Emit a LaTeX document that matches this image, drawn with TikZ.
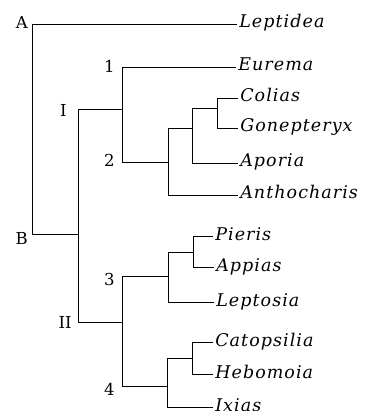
\documentclass[tikz,border=0pt]{standalone}
\usepackage{fontspec}
\newfontfamily\leafff[LetterSpace=6]{DejaVu Serif}
\newfontfamily\labff{DejaVu Serif}
\newcommand\leaffont{\leafff\itshape\fontsize{17.5}{20}\selectfont}
\newcommand\labfont{\labff\fontsize{16.5}{18}\selectfont}
\begin{document}
\begin{tikzpicture}[x=1pt,y=-1pt,line width=0.6pt,
  leaf/.style={anchor=west,inner xsep=2pt,inner ysep=0pt,text height=8pt,text depth=0pt,font=\leaffont},
  lab/.style={anchor=base east,inner sep=0pt,font=\labfont}]
\useasboundingbox (0,0) rectangle (365,411);
% leaves
\node[leaf] (lep) at (237,24) {Leptidea};
\node[leaf] (eur) at (236,67) {Eurema};
\node[leaf] (col) at (238,98) {Colias};
\node[leaf] (gon) at (238,128) {Gonepteryx};
\node[leaf] (apo) at (238,163) {Aporia};
\node[leaf] (ant) at (238,195) {Anthocharis};
\node[leaf] (pie) at (213,236) {Pieris};
\node[leaf] (app) at (214,267) {Appias};
\node[leaf] (lpt) at (214,302) {Leptosia};
\node[leaf] (cat) at (213,342) {Catopsilia};
\node[leaf] (heb) at (213,374) {Hebomoia};
\node[leaf] (ixi) at (213,407) {Ixias};
% labels
\node[lab] (lA) at (28,29) {A};
\node[lab] (lB) at (28,244) {B};
\node[lab] (l1) at (115,73) {1};
\node[lab] (lI) at (67,117) {I};
\node[lab] (l2) at (115,167) {2};
\node[lab] (l3) at (115,285) {3};
\node[lab] (lII) at (72,328) {II};
\node[lab] (l4) at (115,395) {4};
% junctions
\coordinate (a1) at (32,24);  \coordinate (a2) at (32,234);
\coordinate (i1) at (78,109); \coordinate (i2) at (78,322);
\coordinate (c1) at (122,67); \coordinate (c2) at (122,162);
\coordinate (d1) at (168,128); \coordinate (d2) at (168,195);
\coordinate (e1) at (192,108); \coordinate (e2) at (192,163);
\coordinate (f1) at (217,98); \coordinate (f2) at (217,128);
\coordinate (g1) at (122,276); \coordinate (g2) at (122,386);
\coordinate (h1) at (168,252); \coordinate (h2) at (168,302);
\coordinate (k1) at (193,236); \coordinate (k2) at (193,267);
\coordinate (m1) at (167,358); \coordinate (m2) at (167,407);
\coordinate (n1) at (192,342); \coordinate (n2) at (192,374);
% connectors
\draw (lep.west) -- (a1) -- (a2) -- (i1 |- a2);
\draw (i1) -- (i2);
\draw (i1) -- (i1 -| c1);
\draw (i2) -- (i2 -| g1);
\draw (eur.west) -- (c1) -- (c2) -- (c2 -| d1);
\draw (d1) -- (d2) -- (ant.west);
\draw (d1) -- (d1 -| e1);
\draw (e1) -- (e2) -- (apo.west);
\draw (e1) -- (e1 -| f1);
\draw (col.west) -- (f1) -- (f2) -- (gon.west);
\draw (g1) -- (g2);
\draw (g1) -- (g1 -| h1);
\draw (g2) -- (g2 -| m1);
\draw (h1) -- (h2) -- (lpt.west);
\draw (h1) -- (h1 -| k1);
\draw (pie.west) -- (k1) -- (k2) -- (app.west);
\draw (m1) -- (m2) -- (ixi.west);
\draw (m1) -- (m1 -| n1);
\draw (cat.west) -- (n1) -- (n2) -- (heb.west);
\end{tikzpicture}
\end{document}
